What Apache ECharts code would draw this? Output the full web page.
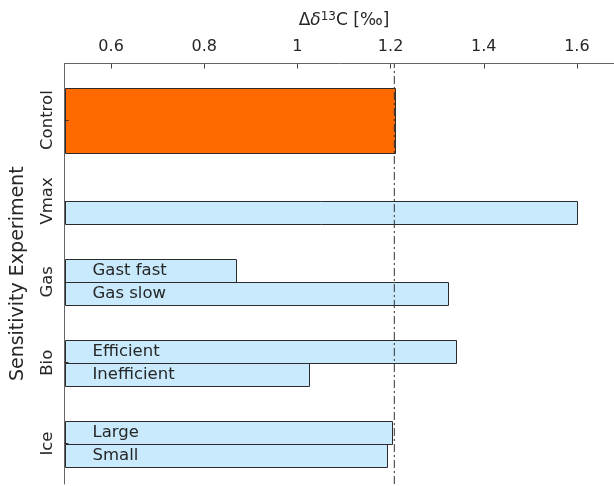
<!DOCTYPE html>
<html>
<head>
<meta charset="utf-8">
<script src="https://cdn.jsdelivr.net/npm/echarts@6/dist/echarts.min.js"></script>
<style>
  html, body { margin: 0; padding: 0; background: #fff; }
  #chart { width: 614px; height: 486px; }
</style>
</head>
<body>
<div id="chart"></div>
<script>
// Experiment groups, listed top to bottom (placed at rows 5..1 on the y scale)
const groups = ['Control', 'Vmax', 'Gas', 'Bio', 'Ice'];

// Δδ13C per run; pairs are [upper, lower], null leaves a slot empty
const controlValue = 1.208;
const vmaxValues = [null, 1.600];
const gasValues = [0.868, 1.322];
const bioValues = [1.339, 1.024];
const iceValues = [1.203, 1.192];

// Labels written inside the paired bars
const vmaxLabels = ['', ''];
const gasLabels = ['Gast fast', 'Gas slow'];
const bioLabels = ['Efficient', 'Inefficient'];
const iceLabels = ['Large', 'Small'];

// Top axis tick values
const xTicks = [0.6, 0.8, 1, 1.2, 1.4, 1.6];

const FONT = 'DejaVu Sans';
const BLUE = '#c8eafc';
const ORANGE = '#ff6a00';
const EDGE = '#2b2b2b';
const TEXT = '#262626';

// Row for each group: first group sits highest
const rowOf = name => groups.length - groups.indexOf(name);

// Build bar records: [value, centre row, thickness, label, colour]
const bars = [];
bars.push([controlValue, rowOf('Control'), 0.8, '', ORANGE]);
const pairs = [
  ['Vmax', vmaxValues, vmaxLabels],
  ['Gas', gasValues, gasLabels],
  ['Bio', bioValues, bioLabels],
  ['Ice', iceValues, iceLabels]
];
const PAIR_W = 0.28;
pairs.forEach(([name, vals, labs]) => {
  const r = rowOf(name);
  vals.forEach((v, i) => {
    if (v == null) return;
    const centre = i === 0 ? r + PAIR_W / 2 : r - PAIR_W / 2;
    bars.push([v, centre, PAIR_W, labs[i], BLUE]);
  });
});

const X_MIN = 0.5, X_MAX = 1.7, Y_MIN = 0.5, Y_MAX = 5.7;

const chart = echarts.init(document.getElementById('chart'), null, { renderer: 'canvas' });

chart.setOption({
  animation: false,
  backgroundColor: '#ffffff',
  grid: { left: 64.5, top: 63.5, width: 559, height: 420.5, containLabel: false, outerBoundsMode: 'none' },
  xAxis: {
    type: 'value',
    position: 'top',
    min: X_MIN,
    max: X_MAX,
    name: '{d|Δ}{i|δ}{s|13}{d|C [‰]}',
    nameLocation: 'middle',
    nameGap: 32,
    nameTextStyle: {
      rich: {
        d: { fontFamily: FONT, fontSize: 17, color: TEXT },
        i: { fontFamily: FONT, fontSize: 17, fontStyle: 'italic', color: TEXT },
        s: { fontFamily: FONT, fontSize: 12, color: TEXT, verticalAlign: 'bottom', padding: [0, 0, 9, 0] }
      }
    },
    axisLine: { show: true, lineStyle: { color: '#666', width: 1 } },
    axisTick: { show: true, inside: true, length: 5, customValues: xTicks, lineStyle: { color: '#444' } },
    axisLabel: {
      customValues: xTicks,
      formatter: v => String(Math.round(v * 10) / 10),
      fontFamily: FONT, fontSize: 16, color: TEXT, margin: 9
    },
    splitLine: { show: false }
  },
  yAxis: {
    type: 'value',
    min: Y_MIN,
    max: Y_MAX,
    z: 5,
    name: 'Sensitivity Experiment',
    nameLocation: 'middle',
    nameGap: 37,
    nameRotate: 90,
    nameTextStyle: { fontFamily: FONT, fontSize: 19, color: TEXT },
    axisLine: { show: true, lineStyle: { color: '#666', width: 1 } },
    axisTick: { show: true, inside: true, length: 4, customValues: [1, 2, 3, 4, 5], lineStyle: { color: '#333' } },
    axisLabel: {
      customValues: [1, 2, 3, 4, 5],
      formatter: v => groups[groups.length - Math.round(v)],
      rotate: 90,
      fontFamily: FONT, fontSize: 16.5, color: TEXT, margin: 8
    },
    splitLine: { show: false }
  },
  series: [
    {
      type: 'custom',
      coordinateSystem: 'cartesian2d',
      data: bars,
      encode: { x: 0, y: 1 },
      renderItem: (params, api) => {
        const v = api.value(0);
        const c = api.value(1);
        const w = api.value(2);
        const item = bars[params.dataIndex];
        const p0 = api.coord([X_MIN, c + w / 2]);
        const p1 = api.coord([v, c - w / 2]);
        const children = [{
          type: 'rect',
          shape: { x: Math.round(p0[0]) + 0.5, y: Math.round(p0[1]) + 0.5, width: Math.round(p1[0] - p0[0]), height: Math.round(p1[1] - p0[1]) },
          style: { fill: item[4], stroke: EDGE, lineWidth: 1 }
        }];
        if (item[3]) {
          children.push({
            type: 'text',
            style: {
              text: item[3],
              x: p0[0] + 28,
              y: (p0[1] + p1[1]) / 2 + 0.5,
              verticalAlign: 'middle',
              align: 'left',
              fontFamily: FONT,
              fontSize: 16.5,
              fill: TEXT
            }
          });
        }
        return { type: 'group', children };
      },
      z: 2
    },
    {
      type: 'line',
      data: [[controlValue, Y_MIN], [controlValue, Y_MAX]],
      symbol: 'none',
      lineStyle: { color: '#333', width: 1, type: [8, 3, 2, 3] },
      z: 3,
      silent: true
    }
  ]
});
</script>
</body>
</html>
